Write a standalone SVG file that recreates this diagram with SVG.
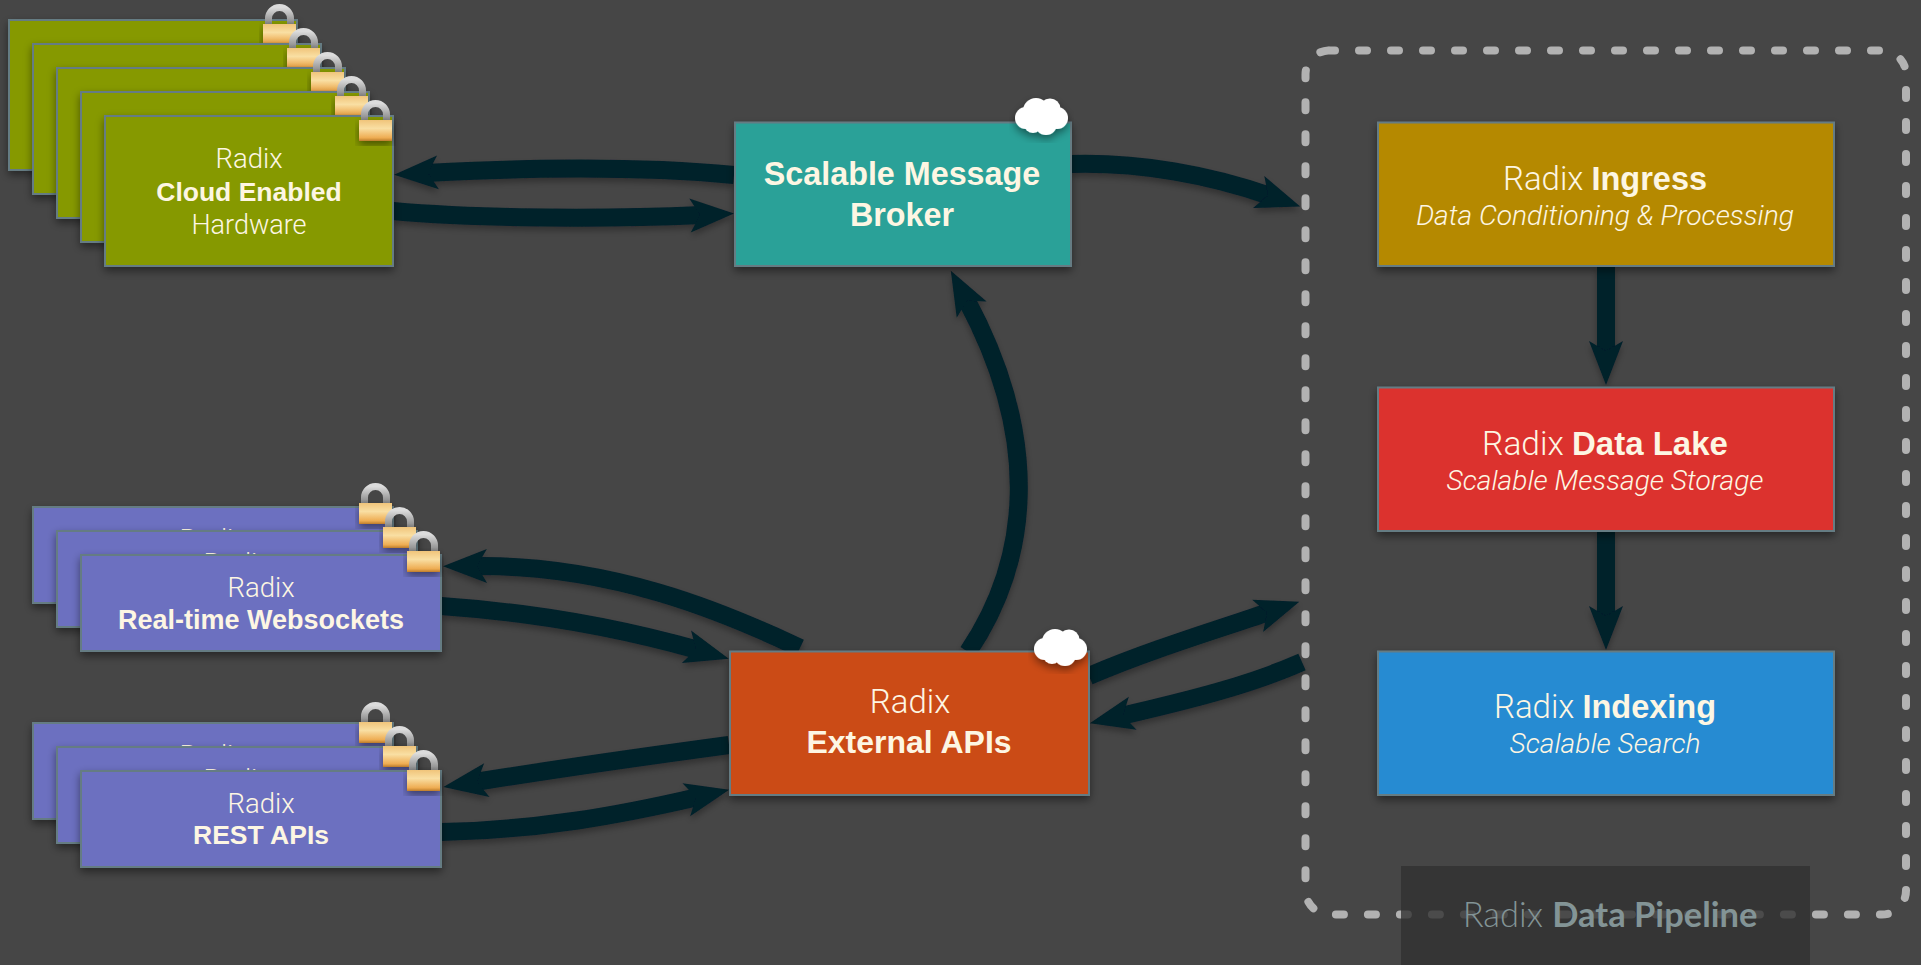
<svg xmlns="http://www.w3.org/2000/svg" xmlns:xlink="http://www.w3.org/1999/xlink" width="1921" height="965" viewBox="0 0 1921 965">
<style>
.card{stroke:#657b83;stroke-width:2;filter:url(#sh)}
.green{fill:#869900}.purple{fill:#6c6fc0}
.t{fill:#fdf6e3;text-anchor:middle;font-family:"Roboto","Liberation Sans",sans-serif;font-weight:300}
.b{font-family:"Liberation Sans",Arial,sans-serif;font-weight:700}
.i{font-style:italic}
.c{fill:none;stroke:#01202b;stroke-width:18;marker-end:url(#ah)}
</style>
<defs>
<filter id="sh" x="-10%" y="-10%" width="120%" height="130%"><feDropShadow dx="0" dy="4" stdDeviation="4" flood-color="#000" flood-opacity=".45"/></filter>
<filter id="sh2" x="-10%" y="-10%" width="120%" height="130%"><feDropShadow dx="0" dy="4" stdDeviation="3" flood-color="#000" flood-opacity=".3"/></filter>
<marker id="ah" markerUnits="userSpaceOnUse" markerWidth="50" markerHeight="40" refX="14" refY="20" orient="auto" overflow="visible"><path d="M46,20 L2,3 L12,20 L2,37 Z" fill="#01202b"/></marker>
<linearGradient id="gold" x1="0" y1="0" x2="0" y2="1"><stop offset="0" stop-color="#f0c47a"/><stop offset=".4" stop-color="#f9dfa3"/><stop offset=".85" stop-color="#eeac52"/><stop offset="1" stop-color="#bd7c2a"/></linearGradient>
<linearGradient id="steel" x1="0" y1="0" x2="0" y2="1"><stop offset="0" stop-color="#dcdcdc"/><stop offset="1" stop-color="#808080"/></linearGradient>
<g id="lock"><path d="M-28.5,6 V-0.5 A11,11 0 0 1 -6.5,-0.5 V6" fill="none" stroke="url(#steel)" stroke-width="7"/><rect x="-34" y="5" width="33" height="21" fill="url(#gold)" filter="url(#sh)"/></g>
<g id="cloud"><g fill="#fff" filter="url(#sh)"><circle cx="12" cy="20" r="11"/><circle cx="22" cy="13" r="13"/><circle cx="36" cy="11" r="10.5"/><circle cx="43" cy="20" r="11"/><circle cx="19" cy="26" r="9"/><circle cx="32" cy="26" r="11"/></g></g>
</defs>
<rect width="1921" height="965" fill="#464646"/>
<g id="connectors" filter="url(#sh2)">
<path class="c" d="M734,175 C640,166 520,168 426,173"/>
<path class="c" d="M393,211 C480,219 610,219 702,215"/>
<path class="c" d="M1071,164 C1140,162 1210,175 1270,196"/>
<path class="c" d="M968,652 C1030,560 1042,440 966,299"/>
<path class="c" d="M800,648 C720,610 610,565 475,566"/>
<path class="c" d="M441,606 C530,612 620,628 698,650"/>
<path class="c" d="M729,745 C640,757 550,770 475,782"/>
<path class="c" d="M441,832 C540,830 620,815 698,797"/>
<path class="c" d="M1089,676 C1150,650 1210,632 1269,612"/>
<path class="c" d="M1302,662 C1250,685 1190,700 1121,716"/>
<path class="c" d="M1606,266 V353"/>
<path class="c" d="M1606,531 V618"/>
</g>
<g id="pipeline"><path d="M1329.5,50.5 H1882 A24,24 0 0 1 1906,74.5 V890.5 A24,24 0 0 1 1882,914.5 H1329.5 A24,24 0 0 1 1305.5,890.5 V74.5 A24,24 0 0 1 1329.5,50.5 Z" fill="none" stroke="#b2b2b2" stroke-width="8" stroke-linecap="round" stroke-dasharray="8 24" stroke-dashoffset="2.5"/></g>
<g id="pipeline-label"><rect x="1401" y="866" width="409" height="99" fill="#313131" fill-opacity=".8"/><text x="1610" y="927" fill="#839496" text-anchor="middle" font-family="Lato,sans-serif" font-size="34.5" font-weight="300">Radix <tspan font-weight="700">Data Pipeline</tspan></text></g>
<g id="cloud-1"><rect class="card green" x="9" y="20" width="288" height="150"/><use xlink:href="#lock" href="#lock" x="297" y="19"/></g>
<g id="cloud-2"><rect class="card green" x="33" y="44" width="288" height="150"/><use xlink:href="#lock" href="#lock" x="321" y="43"/></g>
<g id="cloud-3"><rect class="card green" x="57" y="68" width="288" height="150"/><use xlink:href="#lock" href="#lock" x="345" y="67"/></g>
<g id="cloud-4"><rect class="card green" x="81" y="92" width="288" height="150"/><use xlink:href="#lock" href="#lock" x="369" y="91"/></g>
<g id="cloud-5"><rect class="card green" x="105" y="116" width="288" height="150"/><use xlink:href="#lock" href="#lock" x="393" y="115"/>
<text class="t" x="249" y="168" font-size="27.5">Radix</text><text class="t b" x="249" y="201" font-size="26.5">Cloud Enabled</text><text class="t" x="249" y="234" font-size="27">Hardware</text></g>
<g id="ws-1"><rect class="card purple" x="33" y="507" width="360" height="96"/><text class="t" x="213" y="549" font-size="27.5">Radix</text><use xlink:href="#lock" href="#lock" x="393" y="498"/></g>
<g id="ws-2"><rect class="card purple" x="57" y="531" width="360" height="96"/><text class="t" x="237" y="573" font-size="27.5">Radix</text><use xlink:href="#lock" href="#lock" x="417" y="522"/></g>
<g id="ws-3"><rect class="card purple" x="81" y="555" width="360" height="96"/><use xlink:href="#lock" href="#lock" x="441" y="546"/>
<text class="t" x="261" y="597" font-size="27.5">Radix</text><text class="t b" x="261" y="629" font-size="27">Real-time Websockets</text></g>
<g id="rest-1"><rect class="card purple" x="33" y="723" width="360" height="96"/><text class="t" x="213" y="765" font-size="27.5">Radix</text><use xlink:href="#lock" href="#lock" x="393" y="717"/></g>
<g id="rest-2"><rect class="card purple" x="57" y="747" width="360" height="96"/><text class="t" x="237" y="789" font-size="27.5">Radix</text><use xlink:href="#lock" href="#lock" x="417" y="741"/></g>
<g id="rest-3"><rect class="card purple" x="81" y="771" width="360" height="96"/><use xlink:href="#lock" href="#lock" x="441" y="765"/>
<text class="t" x="261" y="813" font-size="27.5">Radix</text><text class="t b" x="261" y="844" font-size="26.5">REST APIs</text></g>
<g id="broker"><rect class="card" fill="#2aa198" x="735" y="122.5" width="336" height="143.5"/><use xlink:href="#cloud" href="#cloud" x="1014" y="98"/>
<text class="t b" x="902" y="185" font-size="32.3">Scalable Message</text><text class="t b" x="902" y="226" font-size="32.3">Broker</text></g>
<g id="external"><rect class="card" fill="#cb4b13" x="730" y="651.5" width="359" height="143.5"/><use xlink:href="#cloud" href="#cloud" x="1033" y="629"/>
<text class="t" x="910" y="713" font-size="33">Radix</text><text class="t b" x="909" y="753" font-size="32">External APIs</text></g>
<g id="ingress"><rect class="card" fill="#b58900" x="1378" y="122.5" width="456" height="143.5"/>
<text class="t" x="1605" y="190" font-size="33">Radix <tspan class="b" font-size="32.5">Ingress</tspan></text><text class="t i" x="1605" y="225" font-size="28.2">Data Conditioning &amp; Processing</text></g>
<g id="lake"><rect class="card" fill="#dc322f" x="1378" y="387.5" width="456" height="143.5"/>
<text class="t" x="1605" y="455" font-size="33.5">Radix <tspan class="b" font-size="33">Data Lake</tspan></text><text class="t i" x="1605" y="490" font-size="28.2">Scalable Message Storage</text></g>
<g id="indexing"><rect class="card" fill="#268bd2" x="1378" y="651.5" width="456" height="143.5"/>
<text class="t" x="1605" y="718" font-size="33">Radix <tspan class="b" font-size="32.5">Indexing</tspan></text><text class="t i" x="1605" y="753" font-size="28.2">Scalable Search</text></g>
</svg>
